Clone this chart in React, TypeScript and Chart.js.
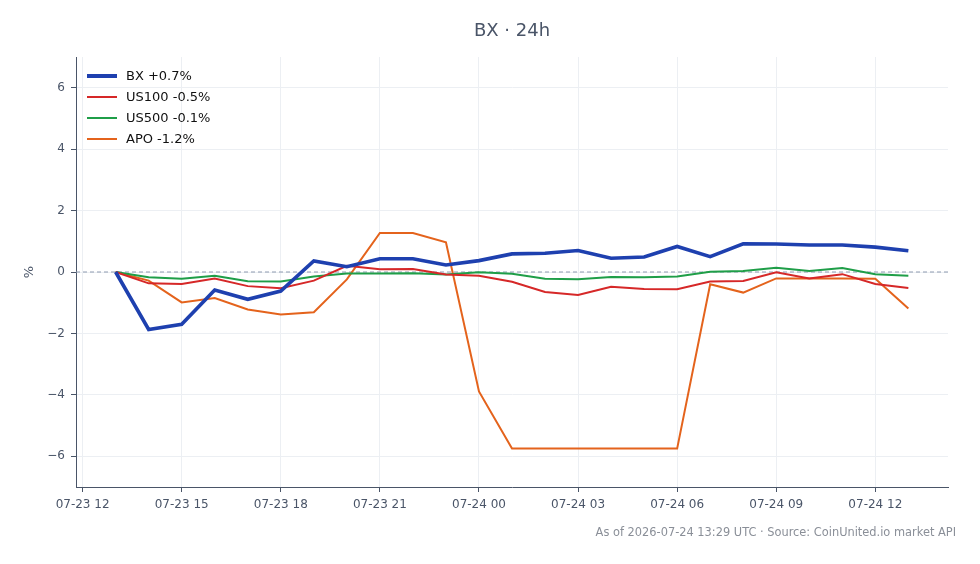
import React, { useEffect, useRef } from "react";
import { Chart, registerables } from "chart.js";

Chart.register(...registerables);

// Hourly timestamps (UTC) of each sample
const TIMES = [
  "07-23 13", "07-23 14", "07-23 15", "07-23 16", "07-23 17", "07-23 18", "07-23 19",
  "07-23 20", "07-23 21", "07-23 22", "07-23 23", "07-24 00", "07-24 01", "07-24 02",
  "07-24 03", "07-24 04", "07-24 05", "07-24 06", "07-24 07", "07-24 08", "07-24 09",
  "07-24 10", "07-24 11", "07-24 12", "07-24 13",
];

const BX = [
  0, -1.87, -1.7, -0.59, -0.89, -0.62, 0.36, 0.17, 0.43, 0.43, 0.23, 0.37, 0.59,
  0.61, 0.7, 0.45, 0.49, 0.83, 0.5, 0.92, 0.91, 0.88, 0.88, 0.81, 0.69,
];
const US100 = [
  0, -0.37, -0.39, -0.21, -0.46, -0.53, -0.28, 0.2, 0.09, 0.1, -0.08, -0.12, -0.32,
  -0.65, -0.75, -0.48, -0.55, -0.56, -0.31, -0.29, -0.01, -0.21, -0.07, -0.39, -0.52,
];
const US500 = [
  0, -0.17, -0.22, -0.12, -0.3, -0.31, -0.15, -0.05, -0.05, -0.04, -0.08, -0.01, -0.06,
  -0.22, -0.24, -0.16, -0.17, -0.15, 0.01, 0.03, 0.14, 0.03, 0.13, -0.07, -0.12,
];
const APO = [
  0, -0.28, -0.99, -0.85, -1.22, -1.38, -1.31, -0.24, 1.27, 1.27, 0.97, -3.89, -5.75,
  -5.75, -5.75, -5.75, -5.75, -5.75, -0.4, -0.67, -0.21, -0.21, -0.21, -0.22, -1.19,
];

const SERIES_NAMES = ["BX +0.7%", "US100 -0.5%", "US500 -0.1%", "APO -1.2%"];
const SERIES_COLORS = ["#1e40af", "#d62828", "#1f9e48", "#e4631c"];
const SERIES_WIDTHS = [3.6, 2, 2, 2];

const X_TICKS = [
  "07-23 12", "07-23 15", "07-23 18", "07-23 21", "07-24 00",
  "07-24 03", "07-24 06", "07-24 09", "07-24 12",
];
const Y_TICKS = [-6, -4, -2, 0, 2, 4, 6];

const TITLE = "BX · 24h";
const FOOTER = "As of 2026-07-24 13:29 UTC · Source: CoinUnited.io market API";
const FONT = "'DejaVu Sans', sans-serif";
const TEXT = "#4a5568";

const ORIGIN = "07-23 12";
function hoursOf(label: string): number {
  const [md, hh] = label.split(" ");
  const [, d] = md.split("-").map(Number);
  const [, d0] = ORIGIN.split(" ")[0].split("-").map(Number);
  return (d - d0) * 24 + Number(hh) - Number(ORIGIN.split(" ")[1]);
}

export default function App() {
  const ref = useRef<HTMLCanvasElement | null>(null);

  useEffect(() => {
    const canvas = ref.current;
    if (!canvas) return;
    const xs = TIMES.map(hoursOf);
    const span = xs[xs.length - 1] - xs[0];
    const xMin = xs[0] - span * 0.05;
    const xMax = xs[xs.length - 1] + span * 0.05;
    const tickVals = X_TICKS.map(hoursOf);
    const all = [BX, US100, US500, APO];

    const decor = {
      id: "decor",
      beforeDatasetsDraw(chart: any) {
        const { ctx, chartArea, scales } = chart;
        const y0 = scales.y.getPixelForValue(0);
        ctx.save();
        ctx.strokeStyle = "#8e9bb0";
        ctx.lineWidth = 1;
        ctx.setLineDash([4, 3]);
        ctx.beginPath();
        ctx.moveTo(chartArea.left, y0);
        ctx.lineTo(chartArea.right, y0);
        ctx.stroke();
        ctx.restore();
      },
      afterDraw(chart: any) {
        const { ctx, chartArea } = chart;
        ctx.save();
        // title
        ctx.fillStyle = TEXT;
        ctx.font = `18px ${FONT}`;
        ctx.textAlign = "center";
        ctx.textBaseline = "middle";
        ctx.fillText(TITLE, (chartArea.left + chartArea.right) / 2, 31.5);
        // footer
        ctx.fillStyle = "#8a8f98";
        ctx.font = `11.4px ${FONT}`;
        ctx.textAlign = "right";
        ctx.fillText(FOOTER, 956, 533);
        // legend
        ctx.font = `13px ${FONT}`;
        ctx.textAlign = "left";
        SERIES_NAMES.forEach((name, i) => {
          const y = chartArea.top + 19 + i * 21;
          const x = chartArea.left + 11;
          ctx.strokeStyle = SERIES_COLORS[i];
          ctx.lineWidth = SERIES_WIDTHS[i] + (i === 0 ? 0.4 : 0);
          ctx.setLineDash([]);
          ctx.beginPath();
          ctx.moveTo(x, y);
          ctx.lineTo(x + 30, y);
          ctx.stroke();
          ctx.fillStyle = "#111111";
          ctx.fillText(name, x + 39, y + 1);
        });
        ctx.restore();
      },
    };

    const chart = new Chart(canvas, {
      type: "line",
      data: {
        datasets: all.map((vals, i) => ({
          label: SERIES_NAMES[i],
          data: vals.map((v, j) => ({ x: xs[j], y: v })),
          borderColor: SERIES_COLORS[i],
          backgroundColor: SERIES_COLORS[i],
          borderWidth: SERIES_WIDTHS[i],
          pointRadius: 0,
          tension: 0,
          order: i === 0 ? 0 : i,
        })),
      },
      options: {
        responsive: false,
        animation: false,
        layout: { padding: { top: 57, right: 32, left: 0, bottom: 0 } },
        plugins: {
          legend: { display: false },
          title: { display: false },
          tooltip: { enabled: false },
        },
        scales: {
          x: {
            type: "linear",
            min: xMin,
            max: xMax,
            afterBuildTicks: (scale: any) => {
              scale.ticks = tickVals.map((v) => ({ value: v }));
            },
            afterFit: (scale: any) => {
              scale.height = 77;
            },
            ticks: {
              autoSkip: false,
              maxRotation: 0,
              padding: 6,
              color: TEXT,
              font: { family: FONT, size: 12 },
              callback: (v: any) => {
                const i = tickVals.indexOf(Number(v));
                return i >= 0 ? X_TICKS[i] : "";
              },
            },
            grid: {
              color: "#eceff3",
              tickColor: TEXT,
              tickLength: 5,
              lineWidth: 1,
            },
            border: { display: true, color: TEXT, width: 1 },
          },
          y: {
            min: -7,
            max: 7,
            afterBuildTicks: (scale: any) => {
              scale.ticks = Y_TICKS.map((v) => ({ value: v }));
            },
            afterFit: (scale: any) => {
              scale.width = 76;
            },
            title: {
              display: true,
              text: "%",
              color: TEXT,
              font: { family: FONT, size: 13 },
              padding: { top: 22, bottom: 0 },
            },
            ticks: {
              padding: 6,
              color: TEXT,
              font: { family: FONT, size: 12 },
              callback: (v: any) => {
                const n = Number(v);
                return n < 0 ? "\u2212" + Math.abs(n) : String(n);
              },
            },
            grid: {
              color: "#eceff3",
              tickColor: TEXT,
              tickLength: 5,
              lineWidth: 1,
            },
            border: { display: true, color: TEXT, width: 1 },
          },
        },
      },
      plugins: [decor],
    });

    return () => chart.destroy();
  }, []);

  return (
    <div style={{ position: "fixed", left: 0, top: 0, width: 980, height: 564, background: "#ffffff" }}>
      <canvas ref={ref} width={980} height={564} style={{ display: "block", width: 980, height: 564 }} />
    </div>
  );
}
